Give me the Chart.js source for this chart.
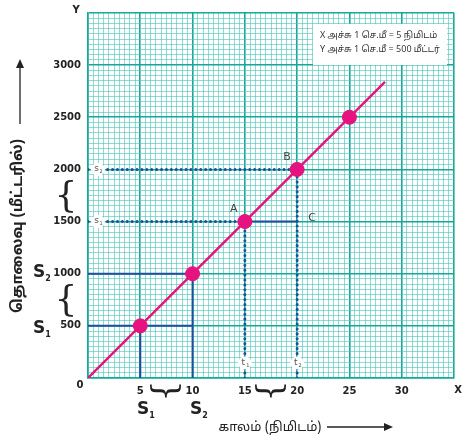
<!DOCTYPE html>
<html>
<head>
<meta charset="utf-8">
<script src="https://cdn.jsdelivr.net/npm/chart.js@4/dist/chart.umd.min.js"></script>
<style>
  html, body { margin: 0; padding: 0; background: #fff; }
  #wrap { width: 463px; height: 439px; }
</style>
</head>
<body>
<div id="wrap"><canvas id="myChart" width="463" height="439"></canvas></div>
<script>
// time (minutes) vs distance (metres) on graph paper

const timeMin = [5, 10, 15, 20, 25];          // marked points, x
const distM = [500, 1000, 1500, 2000, 2500];  // marked points, y
const lineX = [0, 28.4];                      // the straight line ends
const lineY = [0, 2840];
const xMax = 35, yMax = 3500;

const MAGENTA = '#e5127f';
const BLUE = '#1d4f9e';
const MAJOR = '#15a898';
const MINOR = 'rgba(70, 196, 183, 0.6)';

function seg(x1, y1, x2, y2) {
    return [{x: x1, y: y1}, {x: x2, y: y2}];
}

function solid(data) {
    return { type: 'line', data: data, borderColor: BLUE, borderWidth: 2, pointRadius: 0, order: 5 };
}
function dotted(data) {
    return { type: 'line', data: data, borderColor: BLUE, borderWidth: 3, borderDash: [0.1, 4.8],
             borderCapStyle: 'round', pointRadius: 0, order: 5 };
}

const isMul = (v, m) => Math.abs(v / m - Math.round(v / m)) < 1e-6;

// extra text, braces and arrows around the grid
const notes = {
    id: 'notes',
    afterDatasetsDraw(chart) {
        const ctx = chart.ctx;
        const xs = chart.scales.x, ys = chart.scales.y;
        const px = v => xs.getPixelForValue(v), py = v => ys.getPixelForValue(v);
        ctx.save();

        // small s1 / s2 / t1 / t2 tags with white background
        function tag(letter, sub, x, y) {
            ctx.fillStyle = '#fff';
            ctx.beginPath();
            ctx.ellipse(x, y, 7, 6.5, 0, 0, Math.PI * 2);
            ctx.fill();
            ctx.fillStyle = '#555';
            ctx.font = '9px "DejaVu Sans"';
            ctx.textAlign = 'center';
            ctx.textBaseline = 'middle';
            ctx.fillText(letter, x - 1.5, y - 0.5);
            ctx.font = '5px "DejaVu Sans"';
            ctx.fillText(sub, x + 3, y + 2.5);
        }
        tag('s', '2', px(0) + 10, py(2000));
        tag('s', '1', px(0) + 10, py(1500));
        tag('t', '1', px(15), py(0) - 15);
        tag('t', '2', px(20), py(0) - 15);

        // point letters
        ctx.fillStyle = '#444';
        ctx.font = '11px "DejaVu Sans"';
        ctx.textAlign = 'center';
        ctx.textBaseline = 'middle';
        ctx.fillText('A', px(15) - 11, py(1500) - 12);
        ctx.fillText('B', px(20) - 10, py(2000) - 12);
        ctx.fillText('C', px(20) + 15, py(1500) - 3);

        // legend box
        ctx.fillStyle = '#fff';
        ctx.fillRect(313, 24, 134, 41);
        ctx.fillStyle = '#333';
        ctx.font = '9px "Noto Sans Tamil", "Lohit Tamil", "Noto Sans", sans-serif';
        ctx.textAlign = 'left';
        ctx.fillText('X அச்சு 1 செ.மீ = 5 நிமிடம்', 320, 36);
        ctx.fillText('Y அச்சு 1 செ.மீ = 500 மீட்டர்', 320, 50);
        ctx.restore();
    },
    afterDraw(chart) {
        const ctx = chart.ctx;
        const xs = chart.scales.x, ys = chart.scales.y;
        const px = v => xs.getPixelForValue(v), py = v => ys.getPixelForValue(v);
        ctx.save();
        ctx.fillStyle = '#222';
        ctx.strokeStyle = '#222';

        // 0, X and Y
        ctx.font = 'bold 10px "DejaVu Sans"';
        ctx.textAlign = 'center';
        ctx.textBaseline = 'middle';
        ctx.fillText('0', 80, 385);
        ctx.fillText('X', 458, 390);
        ctx.fillText('Y', 76, 10);

        // braces
        ctx.font = '36px "DejaVu Serif"';
        ctx.fillText('{', 66, (py(1500) + py(2000)) / 2 + 2);
        ctx.fillText('{', 66, (py(500) + py(1000)) / 2 + 2);
        function hbrace(x, y) {
            ctx.save();
            ctx.translate(x, y);
            ctx.rotate(-Math.PI / 2);
            ctx.font = '34px "DejaVu Serif"';
            ctx.fillText('{', 0, 0);
            ctx.restore();
        }
        hbrace((px(5) + px(10)) / 2, 391);
        hbrace((px(15) + px(20)) / 2, 391);

        // S1 / S2 labels
        function bigS(sub, x, y) {
            ctx.font = 'bold 17px "DejaVu Sans"';
            ctx.textAlign = 'center';
            ctx.fillText('S', x, y);
            ctx.font = 'bold 8px "DejaVu Sans"';
            ctx.fillText(sub, x + 9, y + 6);
        }
        bigS('2', 39, py(1000) - 1);
        bigS('1', 39, py(500) + 3);
        bigS('1', 143, 410);
        bigS('2', 196, 410);

        // y title and arrow
        ctx.save();
        ctx.translate(19, 226);
        ctx.rotate(-Math.PI / 2);
        ctx.font = 'bold 15px "Noto Sans Tamil", "Lohit Tamil", "Noto Sans", sans-serif';
        ctx.textAlign = 'center';
        ctx.fillText('தொலைவு (மீட்டரில்)', 0, 0);
        ctx.restore();
        ctx.lineWidth = 1.3;
        ctx.beginPath();
        ctx.moveTo(20, 124);
        ctx.lineTo(20, 66);
        ctx.stroke();
        ctx.beginPath();
        ctx.moveTo(20, 59);
        ctx.lineTo(16, 68);
        ctx.lineTo(24, 68);
        ctx.closePath();
        ctx.fill();

        // x title and arrow
        ctx.font = '13px "Noto Sans Tamil", "Lohit Tamil", "Noto Sans", sans-serif';
        ctx.textAlign = 'center';
        ctx.fillText('காலம் (நிமிடம்)', 270, 428);
        ctx.beginPath();
        ctx.moveTo(327, 427);
        ctx.lineTo(385, 427);
        ctx.stroke();
        ctx.beginPath();
        ctx.moveTo(393, 427);
        ctx.lineTo(384, 423);
        ctx.lineTo(384, 431);
        ctx.closePath();
        ctx.fill();
        ctx.restore();
    }
};

const ctx = document.getElementById('myChart');
const myChart = new Chart(ctx, {
    type: 'scatter',
    data: {
        datasets: [
            {   // marked points
                type: 'scatter',
                data: timeMin.map((t, i) => ({x: t, y: distM[i]})),
                backgroundColor: MAGENTA,
                borderColor: MAGENTA,
                pointRadius: 7,
                pointHoverRadius: 7,
                order: 1
            },
            {   // distance-time line
                type: 'line',
                data: lineX.map((t, i) => ({x: t, y: lineY[i]})),
                borderColor: MAGENTA,
                borderWidth: 2.4,
                pointRadius: 0,
                order: 2
            },
            solid(seg(0, 500, 10, 500)),
            solid(seg(5, 0, 5, 500)),
            solid(seg(0, 1000, 10, 1000)),
            solid(seg(10, 0, 10, 1000)),
            solid(seg(15, 1500, 20, 1500)),
            dotted(seg(0, 1500, 15, 1500)),
            dotted(seg(15, 0, 15, 1500)),
            dotted(seg(0, 2000, 20, 2000)),
            dotted(seg(20, 0, 20, 2000))
        ]
    },
    options: {
        responsive: false,
        animation: false,
        events: [],
        layout: { padding: { left: 0, right: 9, top: 12, bottom: 0 } },
        plugins: { legend: { display: false }, tooltip: { enabled: false } },
        scales: {
            x: {
                type: 'linear',
                min: 0, max: xMax,
                afterFit: s => { s.height = 61; },
                border: { color: MAJOR, width: 1.5 },
                grid: {
                    drawTicks: false,
                    color: c => isMul(c.tick.value, 5) ? MAJOR : MINOR,
                    lineWidth: c => isMul(c.tick.value, 5) ? 1.6 : 1
                },
                ticks: {
                    stepSize: 0.5,
                    maxTicksLimit: 1000,
                    autoSkip: false,
                    maxRotation: 0,
                    padding: 7,
                    color: '#222',
                    font: { family: 'DejaVu Sans', size: 10, weight: 'bold' },
                    callback: v => (v > 0 && v < xMax && isMul(v, 5)) ? String(v) : ''
                }
            },
            y: {
                type: 'linear',
                min: 0, max: yMax,
                afterFit: s => { s.width = 88; },
                border: { color: MAJOR, width: 1.5 },
                grid: {
                    drawTicks: false,
                    color: c => isMul(c.tick.value, 500) ? MAJOR : MINOR,
                    lineWidth: c => isMul(c.tick.value, 500) ? 1.6 : 1
                },
                ticks: {
                    stepSize: 50,
                    maxTicksLimit: 1000,
                    autoSkip: false,
                    padding: 7,
                    color: '#222',
                    font: { family: 'DejaVu Sans', size: 10, weight: 'bold' },
                    callback: v => (v > 0 && v < yMax && isMul(v, 500)) ? String(v) : ''
                }
            }
        }
    },
    plugins: [notes]
});
</script>
</body>
</html>
